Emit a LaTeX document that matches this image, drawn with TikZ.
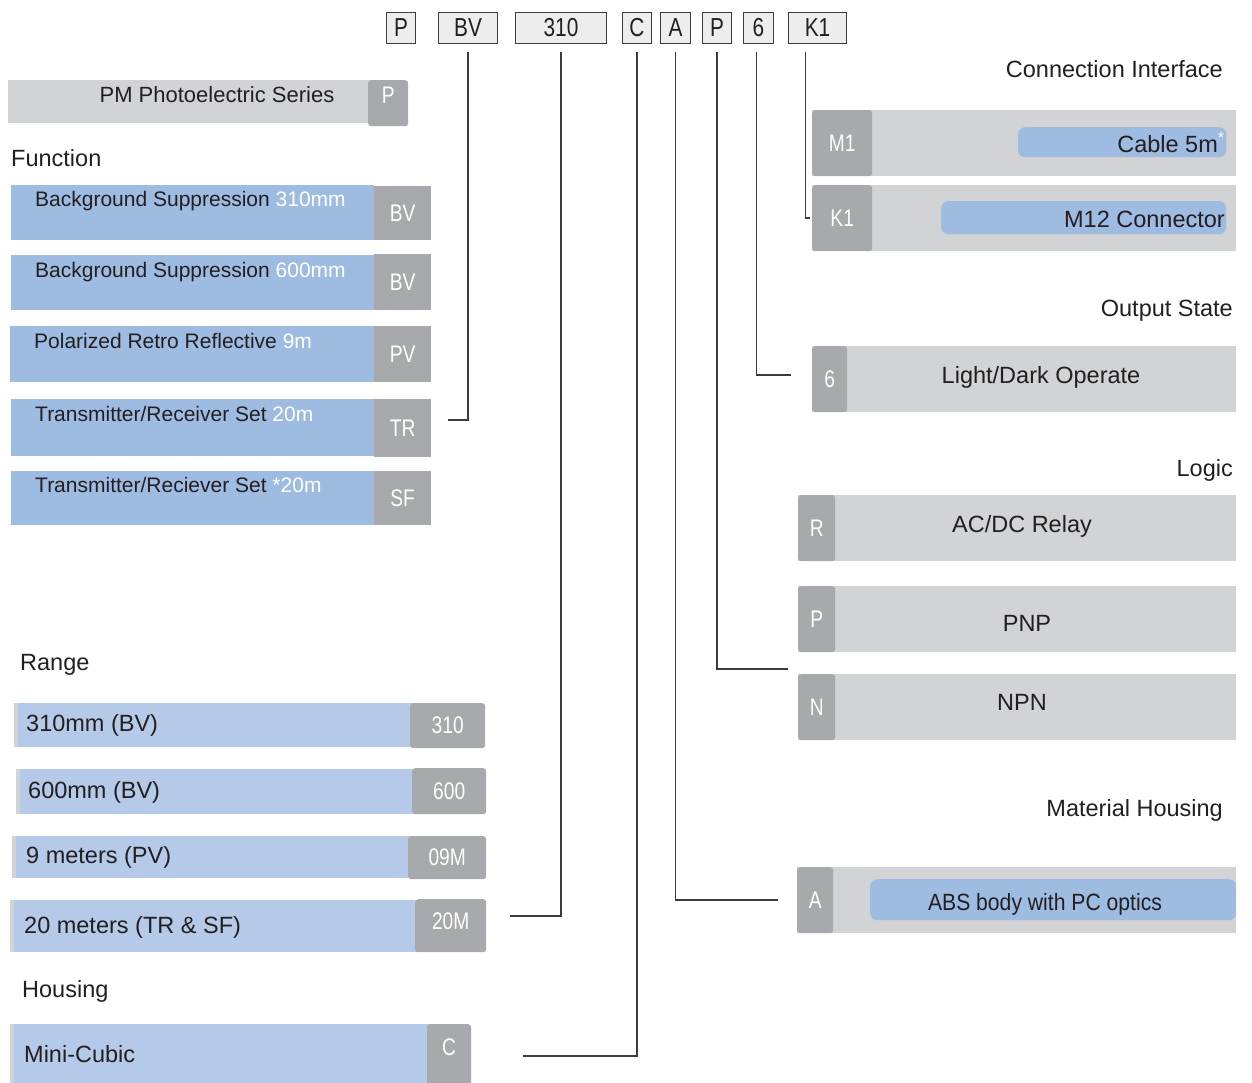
\documentclass[tikz,border=0pt]{standalone}
\usepackage{fontspec}
\setmainfont{Liberation Sans}
\newfontfamily\condfont[FakeStretch=0.8]{Liberation Sans}
\newfontfamily\narrowfont[FakeStretch=0.9]{Liberation Sans}
\usetikzlibrary{positioning}
\definecolor{barGrey}{HTML}{D1D3D4}
\definecolor{badgeGrey}{HTML}{A7A9AC}
\definecolor{funcBlue}{HTML}{9EBBE2}
\definecolor{rangeBlue}{HTML}{B4CAE8}
\definecolor{inkDark}{HTML}{231F20}
\definecolor{lineGrey}{HTML}{3C3C3C}
\tikzset{
  wh/.style 2 args={minimum width=#1, minimum height=#2},
  greybar/.style={anchor=north west, inner sep=0pt, fill=barGrey},
  bluebar/.style={anchor=north west, inner sep=0pt, fill=funcBlue},
  rangebar/.style={anchor=north west, inner sep=0pt, fill=rangeBlue,
    path picture={\fill[barGrey] (path picture bounding box.north west) rectangle ([xshift=4pt]path picture bounding box.south west);}},
  badge/.style={anchor=north west, inner sep=0pt, fill=badgeGrey, rounded corners=3pt, text=white, font=\condfont\fontsize{24}{28}\selectfont},
  badgetext/.style={inner sep=0pt, text=white, font=\condfont\fontsize{24}{28}\selectfont},
  pill/.style={anchor=north west, inner sep=0pt, fill=funcBlue, rounded corners=7pt},
  codebox/.style={anchor=north west, inner sep=0pt, draw=lineGrey, line width=1pt, fill=black!7, minimum height=31pt, text=inkDark, font=\condfont\fontsize{26}{30}\selectfont},
  heading/.style={inner sep=0pt, text=inkDark, font=\fontsize{23.5}{28}\selectfont},
  ftext/.style={inner sep=0pt, anchor=base west, text=inkDark, font=\fontsize{21}{25}\selectfont},
  wire/.style={draw=lineGrey, line width=1.2pt, shorten <=8pt},
}
\begin{document}
\begin{tikzpicture}[x=1pt, y=-1pt]
\useasboundingbox (0,0) rectangle (1252,1083);

% order code
\node[codebox, minimum width=29pt] (cP) at (386,12) {P};
\node[codebox, minimum width=59pt] (cBV) at (438,12) {BV};
\node[codebox, minimum width=91pt] (c310) at (515,12) {310};
\node[codebox, minimum width=29pt] (cC) at (622,12) {C};
\node[codebox, minimum width=30pt] (cA) at (660,12) {A};
\node[codebox, minimum width=29pt] (cP2) at (702,12) {P};
\node[codebox, minimum width=30pt] (c6) at (743,12) {6};
\node[codebox, minimum width=58pt] (cK1) at (788,12) {K1};

% series
\node[greybar, wh={392pt}{43pt}] (series) at (8,80) {};
\node[heading] at (217,95) {\fontsize{22}{26}\selectfont PM Photoelectric Series};
\node[badge, wh={40pt}{46pt}] (sP) at (368,80) {};
\node[badgetext] at ([yshift=8pt]sP.center) {P};

% function
\node[heading, anchor=west] at (11,158) {Function};
\node[bluebar, wh={363pt}{55pt}] (fBV1) at (11,185) {};
\node[badge, sharp corners, wh={57pt}{54pt}] (bBV1) at (374,186) {BV};
\node[ftext] at (35,207) {Background Suppression \textcolor{white}{310mm}};
\node[bluebar, wh={363pt}{55pt}] (fBV2) at (11,255) {};
\node[badge, sharp corners, wh={57pt}{56pt}] (bBV2) at (374,254) {BV};
\node[ftext] at (35,277) {Background Suppression \textcolor{white}{600mm}};
\node[bluebar, wh={364pt}{56pt}] (fPV) at (10,326) {};
\node[badge, sharp corners, wh={57pt}{56pt}] (bPV) at (374,326) {PV};
\node[ftext] at (34,348) {Polarized Retro Reflective \textcolor{white}{9m}};
\node[bluebar, wh={363pt}{57pt}] (fTR) at (11,399) {};
\node[badge, sharp corners, wh={57pt}{58pt}] (bTR) at (374,399) {TR};
\node[ftext] at (35,421) {Transmitter/Receiver Set \textcolor{white}{20m}};
\node[bluebar, wh={404pt}{54pt}] (fSF) at (11,471) {};
\node[badge, sharp corners, wh={57pt}{54pt}] (bSF) at (374,471) {SF};
\node[ftext] at (35,492) {Transmitter/Reciever Set \textcolor{white}{*20m}};
\coordinate (fTRend) at (448,420);

% range
\node[heading, anchor=west] at (20,665) {Range};
\node[rangebar, wh={400pt}{44pt}] (r310) at (14,703) {};
\node[badge, wh={75pt}{45pt}] (b310) at (410,703) {310};
\node[heading, anchor=west] at (26,725) {310mm (BV)};
\node[rangebar, wh={400pt}{45pt}] (r600) at (16,769) {};
\node[badge, wh={74pt}{46pt}] (b600) at (412,768) {600};
\node[heading, anchor=west] at (28,792) {600mm (BV)};
\node[rangebar, wh={400pt}{42pt}] (r09M) at (12,836) {};
\node[badge, wh={78pt}{43pt}] (b09M) at (408,836) {09M};
\node[heading, anchor=west] at (26,857) {9 meters (PV)};
\node[rangebar, wh={410pt}{52pt}] (r20M) at (10,900) {};
\node[badge, wh={71pt}{53pt}] (b20M) at (415,899) {};
\node[badgetext] at ([yshift=4pt]b20M.center) {20M};
\node[heading, anchor=west] at (24,927) {20 meters (TR \& SF)};
\coordinate (r20end) at (510,916);

% housing
\node[heading, anchor=west] at (22,991) {Housing};
\node[rangebar, wh={420pt}{59pt}] (hMini) at (10,1024) {};
\node[badge, wh={44pt}{62pt}] (bC) at (427,1024) {};
\node[badgetext] at (449,1047) {C};
\node[heading, anchor=west] at (24,1054) {Mini-Cubic};
\coordinate (hCend) at (523,1056);

% connection interface
\node[heading, anchor=east] at (1223,69) {Connection Interface};
\node[greybar, wh={424pt}{66pt}] (iM1) at (812,110) {};
\node[badge, wh={60pt}{66pt}] (bM1) at (812,110) {M1};
\node[pill, wh={208pt}{30pt}] (pM1) at (1018,127) {};
\node[heading, anchor=east] at (1225,142) {Cable 5m\textsuperscript{\textcolor{white}{*}}};
\node[greybar, wh={424pt}{66pt}] (iK1) at (812,185) {};
\node[badge, wh={60pt}{66pt}] (bK1) at (812,185) {K1};
\node[pill, wh={285pt}{33pt}] (pK1) at (941,201) {};
\node[heading, anchor=east] at (1225,219) {M12 Connector};
\coordinate (iK1end) at (810,218);

% output state
\node[heading, anchor=east] at (1233,311) {Output State};
\node[greybar, wh={424pt}{66pt}] (o6) at (812,346) {};
\node[badge, wh={35pt}{66pt}] (b6) at (812,346) {6};
\node[heading] at (1041,377) {Light/Dark Operate};
\coordinate (o6end) at (791,375);

% logic
\node[heading, anchor=east] at (1233,470) {Logic};
\node[greybar, wh={438pt}{66pt}] (lR) at (798,495) {};
\node[badge, wh={37pt}{66pt}] (bR) at (798,495) {R};
\node[heading] at (1022,526) {AC/DC Relay};
\node[greybar, wh={438pt}{66pt}] (lP) at (798,586) {};
\node[badge, wh={37pt}{66pt}] (bP) at (798,586) {P};
\node[heading] at (1027,623) {PNP};
\node[greybar, wh={438pt}{66pt}] (lN) at (798,674) {};
\node[badge, wh={37pt}{66pt}] (bN) at (798,674) {N};
\node[heading] at (1022,702) {NPN};
\coordinate (lPend) at (788,669);

% material housing
\node[heading, anchor=east] at (1223,810) {Material Housing};
\node[greybar, wh={439pt}{66pt}] (mA) at (797,867) {};
\node[badge, wh={36pt}{66pt}] (bA) at (797,867) {A};
\node[pill, wh={366pt}{41pt}] (pA) at (870,879) {};
\node[heading] at (1045,904) {\narrowfont ABS body with PC optics};
\coordinate (mAend) at (778,900);

% connectors
\draw[wire] (cBV.south) |- (fTRend);
\draw[wire] (c310.south) |- (r20end);
\draw[wire] (cC.south) |- (hCend);
\draw[wire] (cA.south) |- (mAend);
\draw[wire] (cP2.south) |- (lPend);
\draw[wire] ([xshift=-2pt]c6.south) |- (o6end);
\draw[wire] ([xshift=-12pt]cK1.south) |- (iK1end);
\end{tikzpicture}
\end{document}
